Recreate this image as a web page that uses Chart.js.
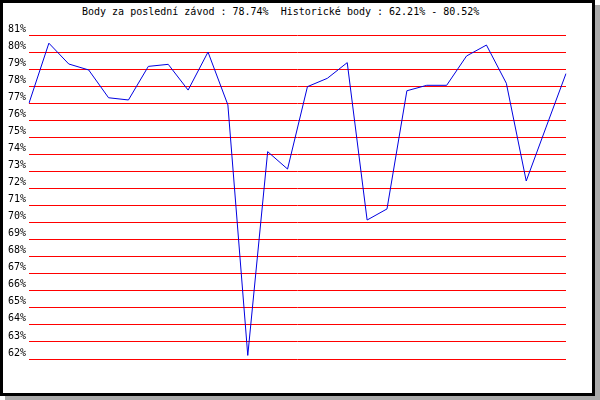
<!DOCTYPE html>
<html lang="cs">
  <head>
    <meta charset="UTF-8" />
    <title>body</title>
    <script src="https://cdn.jsdelivr.net/npm/chart.js@4/dist/chart.umd.min.js"></script>
    <style>
      body { margin: 0; background: #fff; }
      #frame {
        position: absolute; left: 0; top: 0;
        width: 589px; height: 390px;
        border: 3px solid #000;
        box-shadow: 5px 5px 0 #aaa;
        background: #fff;
      }
      #title {
        position: absolute; left: 82px; top: 6px;
        font: 10px "DejaVu Sans Mono", monospace;
        white-space: pre; color: #000;
      }
      #chart { position: absolute; left: 0; top: 0; }
    </style>
  </head>
  <body>
    <div id="frame"></div>
    <div id="title">Body za poslední závod : 78.74%  Historické body : 62.21% - 80.52%</div>
    <canvas id="chart" width="600" height="400"></canvas>
    <script>
      const races = [
        1, 2, 3, 4, 5, 6, 7, 8, 9, 10, 11, 12, 13, 14,
        15, 16, 17, 18, 19, 20, 21, 22, 23, 24, 25, 26, 27, 28,
      ];
      const points = [
        77.0, 80.52, 79.3, 78.95, 77.32, 77.19, 79.16, 79.28, 77.77, 80.0,
        76.9, 62.21, 74.16, 73.14, 77.97, 78.46, 79.38, 70.15, 70.8, 77.73,
        78.05, 78.05, 79.77, 80.41, 78.17, 72.44, 75.6, 78.74,
      ];
      const yMin = 62;
      const yMax = 81;

      new Chart(document.getElementById("chart"), {
        type: "line",
        data: {
          labels: races,
          datasets: [
            {
              data: points,
              borderColor: "#0000e0",
              borderWidth: 1,
              pointRadius: 0,
              tension: 0,
              fill: false,
            },
          ],
        },
        options: {
          responsive: false,
          animation: false,
          layout: { padding: { top: 35, bottom: 41, left: 0, right: 34 } },
          plugins: {
            legend: { display: false },
            tooltip: { enabled: false },
          },
          scales: {
            x: { display: false },
            y: {
              min: yMin,
              max: yMax,
              border: { display: false },
              grid: { color: "#ff0000", lineWidth: 1, drawTicks: false },
              ticks: {
                stepSize: 1,
                padding: 3,
                labelOffset: -6,
                color: "#000",
                font: { family: "DejaVu Sans Mono", size: 10 },
                callback: (v) => v + "%",
              },
              afterFit: (axis) => {
                axis.width = 29;
              },
            },
          },
        },
      });
    </script>
  </body>
</html>
